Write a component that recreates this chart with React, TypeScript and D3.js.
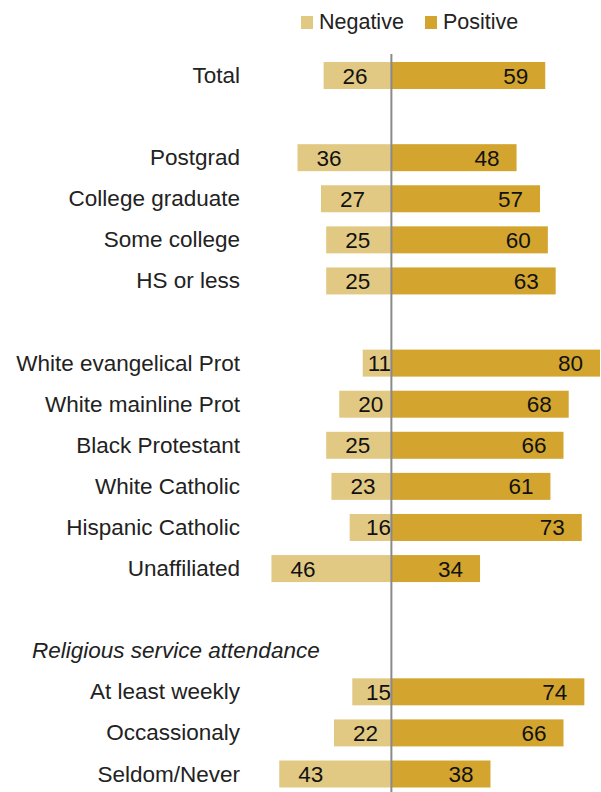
import React from "react";
import * as d3 from "d3";

const categories = [
  "Total", "", "Postgrad", "College graduate", "Some college", "HS or less", "",
  "White evangelical Prot", "White mainline Prot", "Black Protestant", "White Catholic",
  "Hispanic Catholic", "Unaffiliated", "", "Religious service attendance",
  "At least weekly", "Occassionaly", "Seldom/Never",
];
const negative = [26, null, 36, 27, 25, 25, null, 11, 20, 25, 23, 16, 46, null, null, 15, 22, 43];
const positive = [59, null, 48, 57, 60, 63, null, 80, 68, 66, 61, 73, 34, null, null, 74, 66, 38];
const headerRows = ["Religious service attendance"];
const legendLabels = ["Negative", "Positive"];

const W = 601;
const H = 792;
const NEG = "#E2C983";
const POS = "#D3A52F";
const FONT = "'Liberation Sans', Arial, sans-serif";

export default function App() {
  const slots = categories.map((_, i) => String(i));
  const y = d3.scalePoint<string>().domain(slots).range([75.5, 774]);
  const x = d3.scaleLinear().domain([-50, 80]).range([261, 600]);
  const barH = 27;
  const x0 = x(0);

  return (
    <svg width={W} height={H} style={{ position: "absolute", left: 0, top: 0 }} fontFamily={FONT}>
      <g>
        <rect x={301} y={16} width={12} height={13} fill={NEG} />
        <text x={319} y={29} fontSize={21.5} fill="#222">{legendLabels[0]}</text>
        <rect x={425} y={16} width={12} height={13} fill={POS} />
        <text x={443} y={29} fontSize={21.5} fill="#222">{legendLabels[1]}</text>
      </g>
      {categories.map((c, i) => {
        const cy = y(String(i))!;
        if (!c) return null;
        if (headerRows.includes(c)) {
          return (
            <text key={i} x={32} y={cy + 7.5} fontSize={22.5} fontStyle="italic" fill="#222">{c}</text>
          );
        }
        const n = negative[i]!;
        const p = positive[i]!;
        const nl = x(-n);
        const pr = x(p);
        return (
          <g key={i}>
            <text x={240} y={cy + 7.5} fontSize={22.5} textAnchor="end" fill="#222">{c}</text>
            <rect x={nl} y={cy - barH / 2} width={x0 - nl} height={barH} fill={NEG} />
            <rect x={x0} y={cy - barH / 2} width={pr - x0} height={barH} fill={POS} />
            <text x={Math.min(nl + 44, 391)} y={cy + 8} fontSize={22.5} textAnchor="end" fill="#111">{n}</text>
            <text x={pr - 17} y={cy + 8} fontSize={22.5} textAnchor="end" fill="#111">{p}</text>
          </g>
        );
      })}
      <line x1={x0} x2={x0} y1={54} y2={H} stroke="#8a8a8a" strokeWidth={2} />
    </svg>
  );
}
